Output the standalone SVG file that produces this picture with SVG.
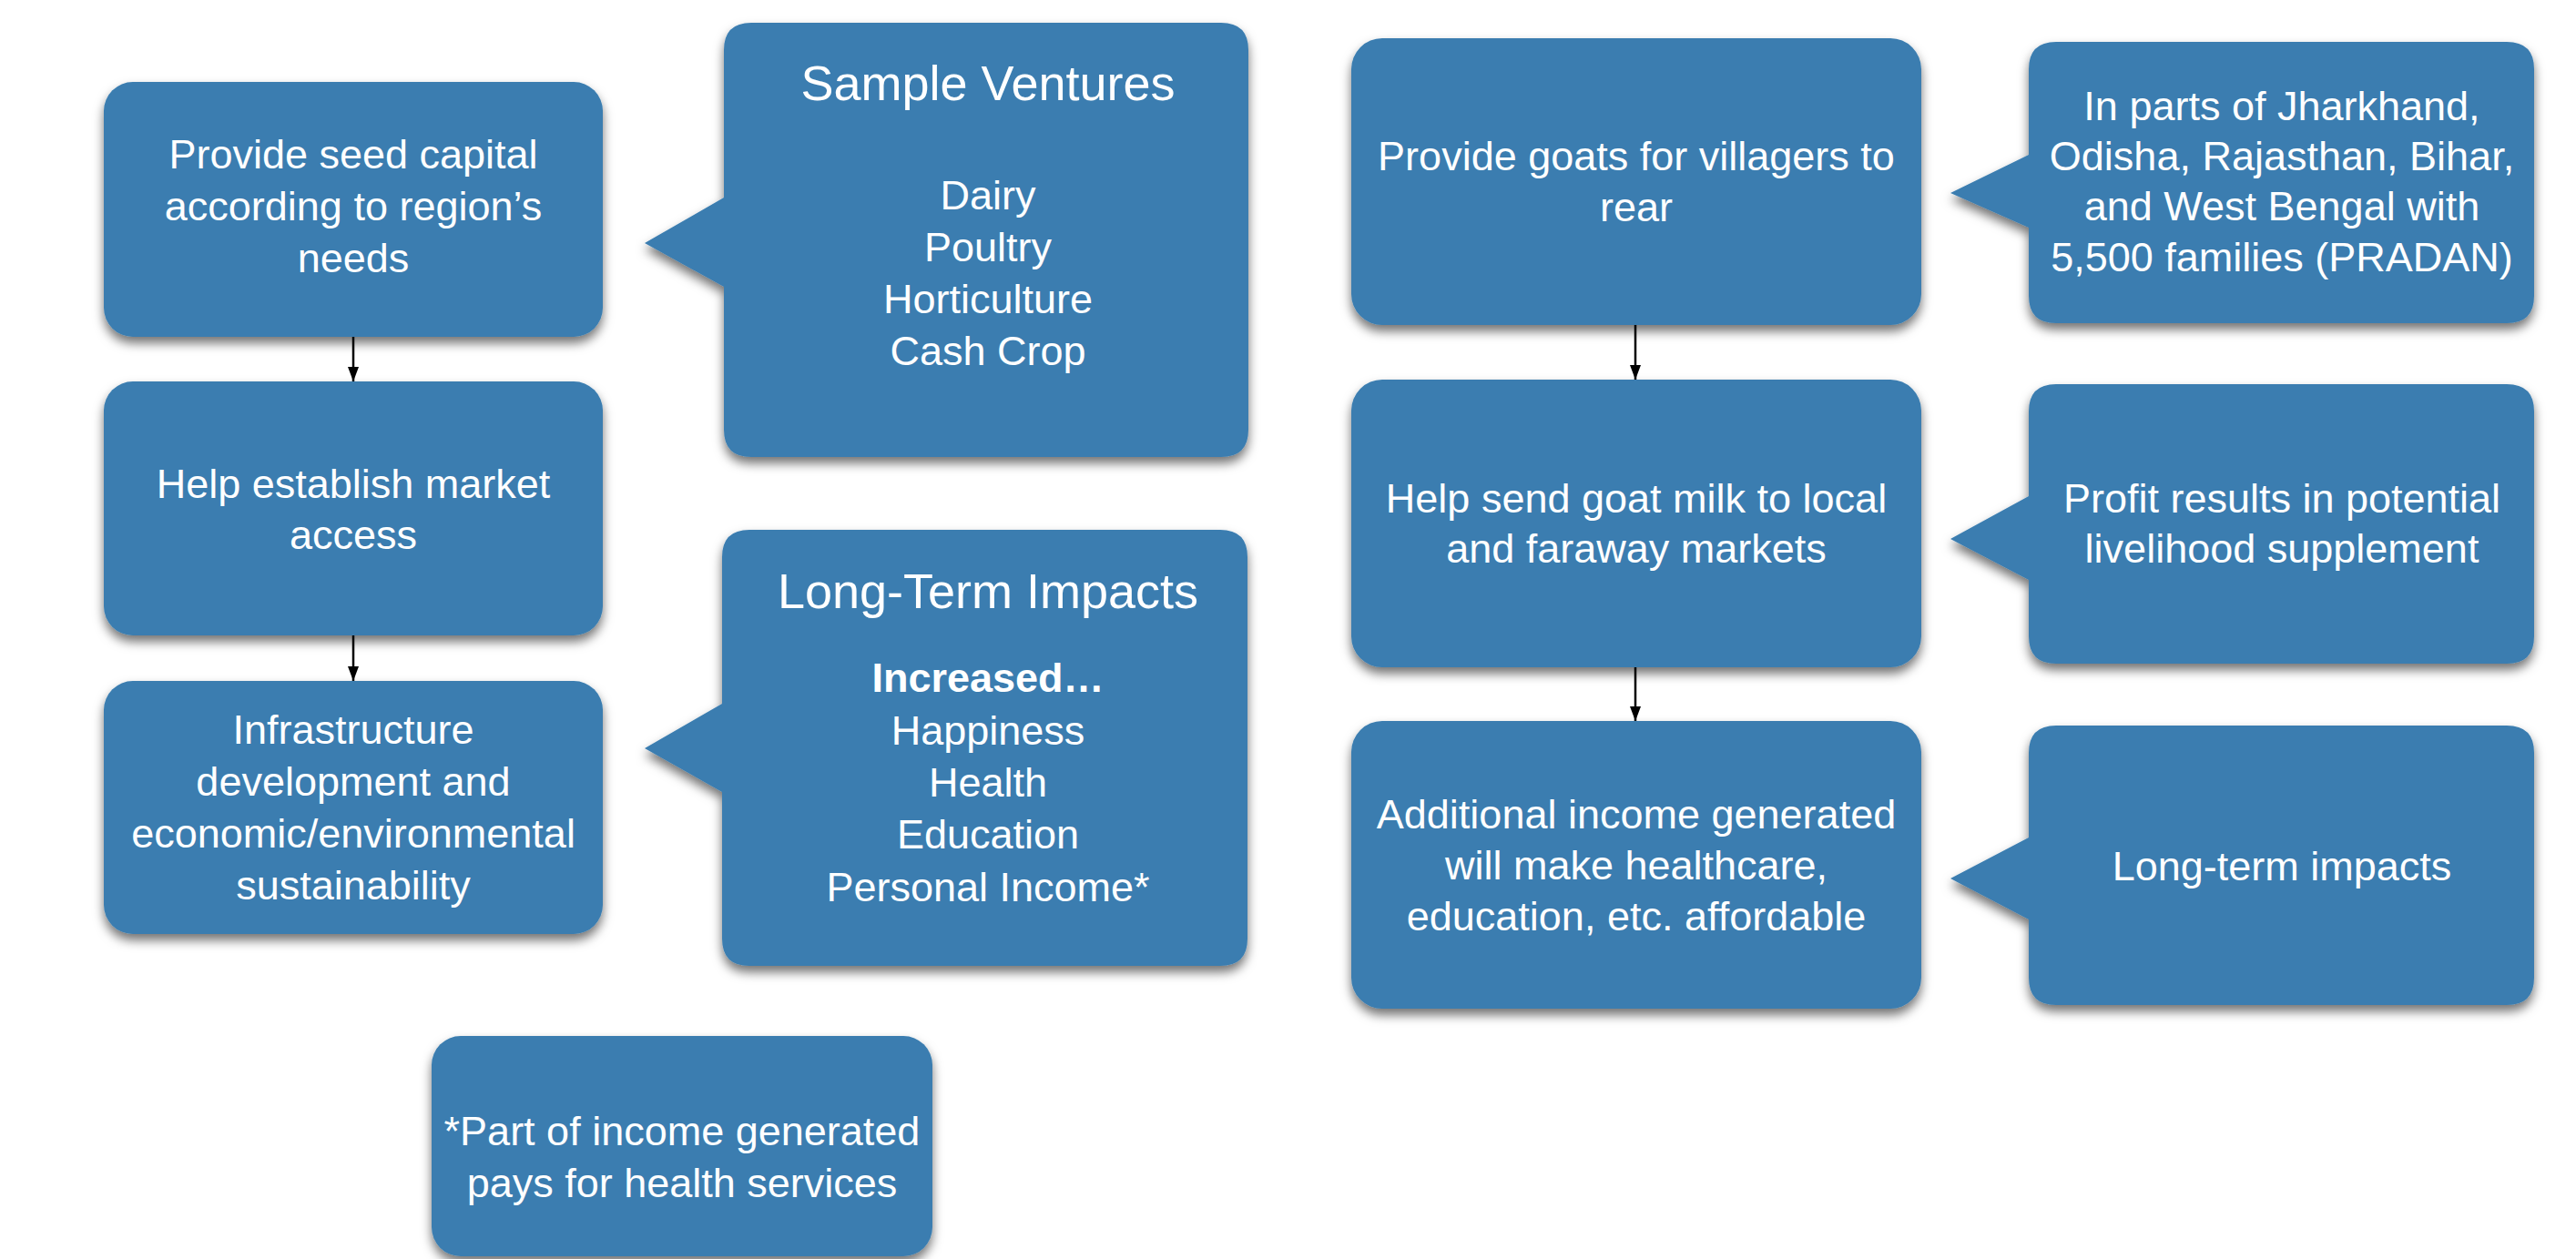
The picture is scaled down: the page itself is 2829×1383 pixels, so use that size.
<svg xmlns="http://www.w3.org/2000/svg" width="2829" height="1383" viewBox="0 0 2829 1383">
<defs>
<filter id="sh" x="-10%" y="-10%" width="120%" height="125%">
<feDropShadow dx="0" dy="7" stdDeviation="6" flood-color="#000" flood-opacity="0.55"/>
</filter>
<marker id="ah" markerWidth="16" markerHeight="12" refX="16" refY="6" orient="auto" markerUnits="userSpaceOnUse" viewBox="0 0 16 12">
<path d="M0 0 L16 6 L0 12 Z" fill="#000"/>
</marker>
</defs>
<style>
.box{fill:#3a7db0;filter:url(#sh);}
.t{font-family:"Liberation Sans",Arial,sans-serif;font-size:45px;fill:#fff;text-anchor:middle;}
.ttl{font-size:54px;}
.b{font-weight:bold;}
.c{stroke:#000;stroke-width:2.5;fill:none;}
</style>
<rect width="2829" height="1383" fill="#fff"/>

<g id="connectors">
<path class="c" d="M388 370 V419" marker-end="url(#ah)"/>
<path class="c" d="M388 698 V748" marker-end="url(#ah)"/>
<path class="c" d="M1796 357 V417" marker-end="url(#ah)"/>
<path class="c" d="M1796 733 V792" marker-end="url(#ah)"/>
</g>

<g id="n-seed">
<rect class="box" x="114" y="90" width="548" height="280" rx="32"/>
<text class="t" x="388" y="185">Provide seed capital</text>
<text class="t" x="388" y="242">according to region’s</text>
<text class="t" x="388" y="299">needs</text>
</g>

<g id="n-market">
<rect class="box" x="114" y="419" width="548" height="279" rx="32"/>
<text class="t" x="388" y="547">Help establish market</text>
<text class="t" x="388" y="603">access</text>
</g>

<g id="n-infra">
<rect class="box" x="114" y="748" width="548" height="278" rx="32"/>
<text class="t" x="388" y="817">Infrastructure</text>
<text class="t" x="388" y="874">development and</text>
<text class="t" x="388" y="931">economic/environmental</text>
<text class="t" x="388" y="988">sustainability</text>
</g>

<g id="n-sample">
<path class="box" d="M825 25 H1341 Q1371 25 1371 55 V472 Q1371 502 1341 502 H825 Q795 502 795 472 V315 L708 267 L795 217 V55 Q795 25 825 25 Z"/>
<text class="t ttl" x="1085" y="110">Sample Ventures</text>
<text class="t" x="1085" y="230">Dairy</text>
<text class="t" x="1085" y="287">Poultry</text>
<text class="t" x="1085" y="344">Horticulture</text>
<text class="t" x="1085" y="401">Cash Crop</text>
</g>

<g id="n-impacts">
<path class="box" d="M823 582 H1340 Q1370 582 1370 612 V1031 Q1370 1061 1340 1061 H823 Q793 1061 793 1031 V870 L708 822 L793 773 V612 Q793 582 823 582 Z"/>
<text class="t ttl" x="1085" y="668">Long-Term Impacts</text>
<text class="t b" x="1085" y="760">Increased…</text>
<text class="t" x="1085" y="818">Happiness</text>
<text class="t" x="1085" y="875">Health</text>
<text class="t" x="1085" y="932">Education</text>
<text class="t" x="1085" y="990">Personal Income*</text>
</g>

<g id="n-footnote">
<rect class="box" x="474" y="1138" width="550" height="242" rx="32"/>
<text class="t" x="749" y="1258">*Part of income generated</text>
<text class="t" x="749" y="1315">pays for health services</text>
</g>

<g id="n-goats">
<rect class="box" x="1484" y="42" width="626" height="315" rx="34"/>
<text class="t" x="1797" y="187">Provide goats for villagers to</text>
<text class="t" x="1797" y="243">rear</text>
</g>

<g id="n-milk">
<rect class="box" x="1484" y="417" width="626" height="316" rx="34"/>
<text class="t" x="1797" y="563">Help send goat milk to local</text>
<text class="t" x="1797" y="618">and faraway markets</text>
</g>

<g id="n-income">
<rect class="box" x="1484" y="792" width="626" height="316" rx="34"/>
<text class="t" x="1797" y="910">Additional income generated</text>
<text class="t" x="1797" y="966">will make healthcare,</text>
<text class="t" x="1797" y="1022">education, etc. affordable</text>
</g>

<g id="n-regions">
<path class="box" d="M2258 46 H2753 Q2783 46 2783 76 V325 Q2783 355 2753 355 H2258 Q2228 355 2228 325 V250 L2142 212 L2228 170 V76 Q2228 46 2258 46 Z"/>
<text class="t" x="2506" y="132">In parts of Jharkhand,</text>
<text class="t" x="2506" y="187">Odisha, Rajasthan, Bihar,</text>
<text class="t" x="2506" y="242">and West Bengal with</text>
<text class="t" x="2506" y="298">5,500 families (PRADAN)</text>
</g>

<g id="n-profit">
<path class="box" d="M2258 422 H2753 Q2783 422 2783 452 V699 Q2783 729 2753 729 H2258 Q2228 729 2228 699 V637 L2142 592 L2228 545 V452 Q2228 422 2258 422 Z"/>
<text class="t" x="2506" y="563">Profit results in potential</text>
<text class="t" x="2506" y="618">livelihood supplement</text>
</g>

<g id="n-longterm">
<path class="box" d="M2258 797 H2753 Q2783 797 2783 827 V1074 Q2783 1104 2753 1104 H2258 Q2228 1104 2228 1074 V1010 L2142 965 L2228 920 V827 Q2228 797 2258 797 Z"/>
<text class="t" x="2506" y="967">Long-term impacts</text>
</g>
</svg>
